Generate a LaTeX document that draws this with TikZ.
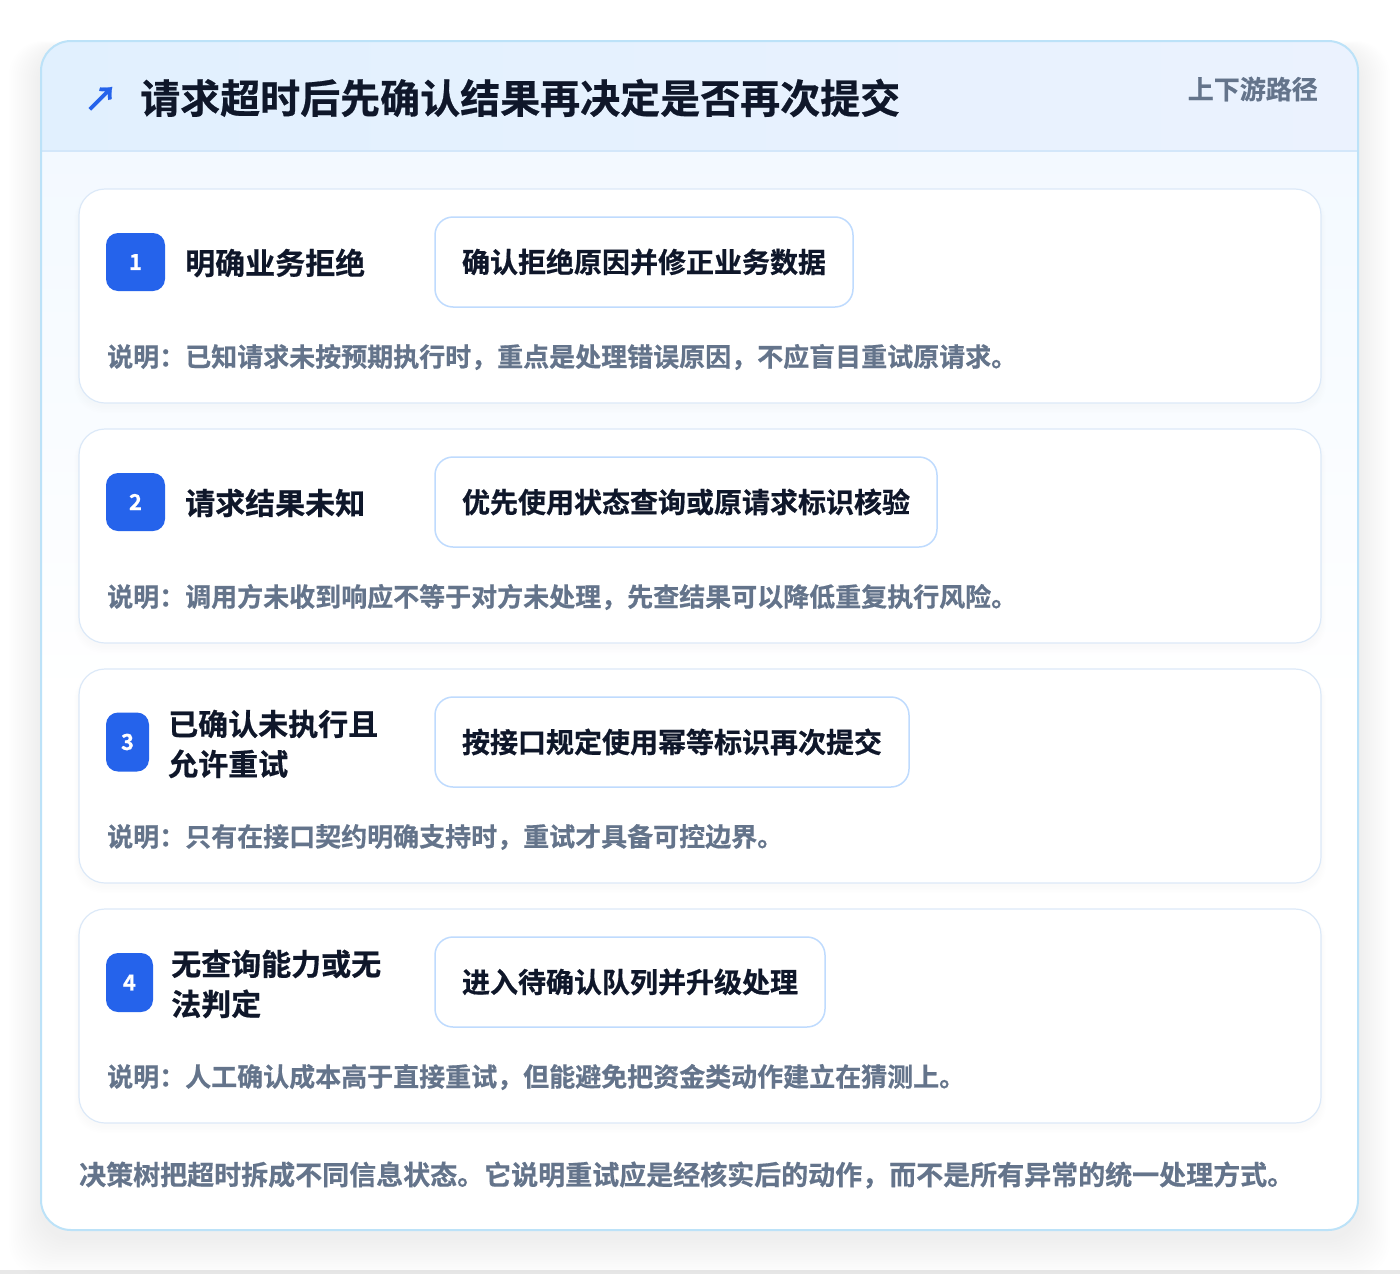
\documentclass[tikz,border=0pt]{standalone}
\usepackage{fontspec}
\setmainfont{Noto Sans CJK SC}[BoldFont={* Bold}, BoldFeatures={FakeBold=0.6}]
\definecolor{bluebadge}{HTML}{2563EB}
\definecolor{ink}{HTML}{0F172A}
\definecolor{muted}{HTML}{64748B}
\definecolor{cardline}{HTML}{DCE9F8}
\definecolor{actline}{HTML}{BFDBFE}
\definecolor{outerline}{HTML}{BCE2F8}
\definecolor{headA}{HTML}{E1F0FE}
\definecolor{headB}{HTML}{EBF2FE}
\definecolor{headline}{HTML}{D3E7FA}
\definecolor{innerA}{HTML}{F3F9FF}
\tikzset{
  card/.style={draw=cardline, line width=1.2pt, fill=white, rounded corners=26pt,
    minimum width=1242pt, minimum height=214pt, inner sep=0pt},
  badge/.style={fill=bluebadge, rounded corners=12pt, inner sep=0pt,
    text=white, font=\bfseries\fontsize{22pt}{24pt}\selectfont},
  ttl/.style={anchor=west, inner sep=0pt, text=ink, align=left,
    font=\bfseries\fontsize{30pt}{40pt}\selectfont},
  act/.style={draw=actline, line width=1.5pt, fill=white, rounded corners=18pt,
    minimum height=90pt, inner sep=0pt, text=ink,
    font=\bfseries\fontsize{28pt}{32pt}\selectfont},
  note/.style={anchor=west, inner sep=0pt, text=muted,
    font=\bfseries\fontsize{26pt}{30pt}\selectfont},
}
\begin{document}
\begin{tikzpicture}[x=1pt,y=-1pt]
\useasboundingbox (0,0) rectangle (1400,1274);
\fill[white] (0,0) rectangle (1400,1274);
\fill[black!9] (0,1270) rectangle (1400,1274);
% outer soft shadow
\foreach \i in {1,...,16}{
  \fill[black, opacity=0.0055, rounded corners=34pt]
    (41-\i*2, 41-\i*0.5+8) rectangle (1358+\i*2, 1230+\i*2.4+8);
}
% outer card
\fill[white, rounded corners=30pt] (41,41) rectangle (1358,1230);
\begin{scope}
  \clip[rounded corners=30pt] (41,41) rectangle (1358,1230);
  \shade[top color=innerA, bottom color=white] (41,151) rectangle (1358,700);
  \shade[left color=headA, right color=headB] (41,41) rectangle (1358,151);
  \draw[headline, line width=1.5pt] (41,151) -- (1358,151);
\end{scope}
\draw[outerline, line width=2pt, rounded corners=30pt] (41,41) rectangle (1358,1230);

% header
\node[inner sep=0pt, text=bluebadge, font=\bfseries\fontsize{34pt}{36pt}\selectfont] (arrow) at (101,99) {↗};
\node[anchor=west, inner sep=0pt, text=ink, font=\bfseries\fontsize{40pt}{44pt}\selectfont] (title) at (140,98) {请求超时后先确认结果再决定是否再次提交};
\node[anchor=east, inner sep=0pt, text=muted, font=\bfseries\fontsize{26pt}{28pt}\selectfont] (tag) at (1318,89) {上下游路径};

% card shadows
\foreach \y in {296,536,776,1016}{
  \foreach \i in {1,...,5}{
    \fill[black, opacity=0.005, rounded corners=28pt]
      (79-\i, \y-107+3) rectangle (1321+\i, \y+107+\i*1.4+3);
  }
}

% card 1
\node[card] (c1) at (700,296) {};
\node[badge, minimum width=59pt, minimum height=58pt] (b1) at (135.5,262) {1};
\node[ttl] (t1) at (185,263) {明确业务拒绝};
\node[act, minimum width=418pt] (a1) at (644,262) {确认拒绝原因并修正业务数据};
\node[note] (n1) at (107,357) {说明：已知请求未按预期执行时，重点是处理错误原因，不应盲目重试原请求。};

% card 2
\node[card] (c2) at (700,536) {};
\node[badge, minimum width=59pt, minimum height=58pt] (b2) at (135.5,502) {2};
\node[ttl] (t2) at (185,503) {请求结果未知};
\node[act, minimum width=502pt] (a2) at (686,502) {优先使用状态查询或原请求标识核验};
\node[note] (n2) at (107,597) {说明：调用方未收到响应不等于对方未处理，先查结果可以降低重复执行风险。};

% card 3
\node[card] (c3) at (700,776) {};
\node[badge, minimum width=43pt, minimum height=59pt] (b3) at (127.5,742) {3};
\node[ttl] (t3) at (168,744) {已确认未执行且\\允许重试};
\node[act, minimum width=474pt] (a3) at (672,742) {按接口规定使用幂等标识再次提交};
\node[note] (n3) at (107,837) {说明：只有在接口契约明确支持时，重试才具备可控边界。};

% card 4
\node[card] (c4) at (700,1016) {};
\node[badge, minimum width=47pt, minimum height=59pt] (b4) at (129.5,982.5) {4};
\node[ttl] (t4) at (171,984) {无查询能力或无\\法判定};
\node[act, minimum width=390pt] (a4) at (630,982) {进入待确认队列并升级处理};
\node[note] (n4) at (107,1077) {说明：人工确认成本高于直接重试，但能避免把资金类动作建立在猜测上。};

% footer
\node[anchor=west, inner sep=0pt, text=muted, font=\bfseries\fontsize{27pt}{30pt}\selectfont] (foot) at (79,1175) {决策树把超时拆成不同信息状态。它说明重试应是经核实后的动作，而不是所有异常的统一处理方式。};
\end{tikzpicture}
\end{document}
